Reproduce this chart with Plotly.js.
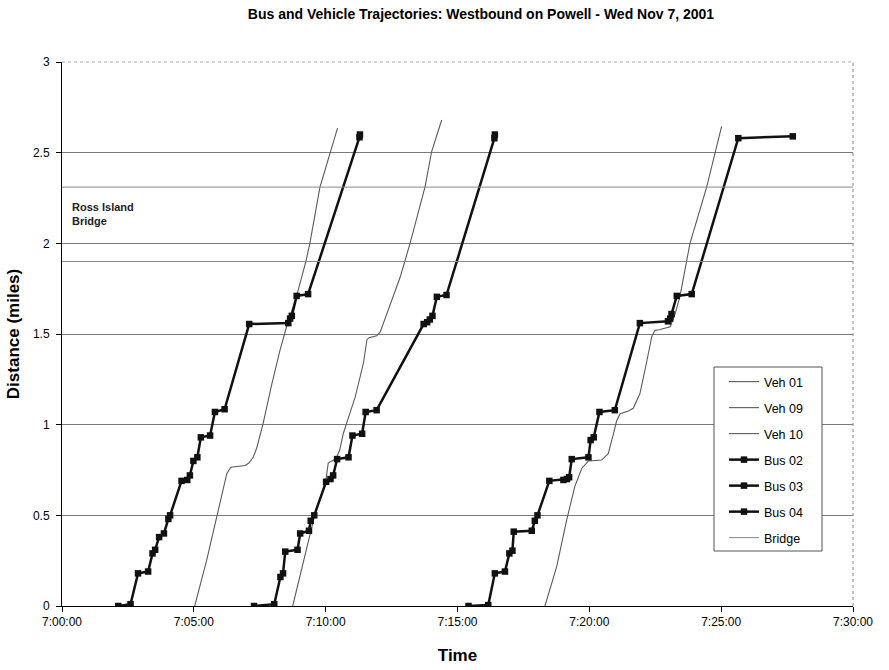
<!DOCTYPE html>
<html>
<head>
<meta charset="utf-8">
<script src="https://cdn.plot.ly/plotly-3.0.1.min.js"></script>
<style>html,body{margin:0;padding:0;background:#fff;}#chart{width:889px;height:670px;}</style>
</head>
<body>
<div id="chart"></div>
<script>
// ---- data (time of day, distance in miles) ----
const veh01Time = ["7:05:02","7:05:29","7:05:52","7:06:07","7:06:15","7:06:24","7:06:42","7:06:57","7:07:06","7:07:15","7:07:23","7:07:30","7:07:38","7:07:57","7:08:16","7:08:31","7:08:54","7:09:15","7:09:24","7:09:47","7:10:10","7:10:27"];
const veh01Dist = [0,0.25,0.49,0.65,0.73,0.765,0.77,0.775,0.79,0.82,0.87,0.93,1.01,1.22,1.41,1.54,1.71,1.90,2.0,2.31,2.505,2.635];

const veh09Time = ["8:45","9:10","9:35","9:51","10:01","10:03","10:06","10:14","10:23","10:32","10:40","10:52","11:07","11:26","11:34","11:39","11:56","12:04","12:19","12:34","12:49","13:00","13:12","13:46","14:01","14:24"];
const veh09Dist = [0,0.25,0.50,0.62,0.70,0.74,0.79,0.80,0.81,0.86,0.95,1.04,1.15,1.34,1.47,1.48,1.49,1.51,1.61,1.72,1.81,1.90,2.0,2.31,2.505,2.68];

const veh10Time = ["18:19","18:46","19:08","19:27","19:43","19:58","20:28","20:43","20:55","21:02","21:10","21:29","21:40","21:52","21:55","22:10","22:22","22:29","22:41","23:04","23:15","23:26","23:40","23:49","24:27","24:46","25:01"];
const veh10Dist = [0,0.22,0.47,0.66,0.76,0.80,0.805,0.84,0.95,1.02,1.06,1.075,1.09,1.15,1.17,1.34,1.485,1.52,1.525,1.54,1.61,1.705,1.88,2.0,2.31,2.505,2.645];

const bus02Time = ["2:08","2:36","2:53","3:16","3:26","3:32","3:41","3:52","4:02","4:06","4:32","4:45","4:51","4:59","5:08","5:16","5:37","5:48","6:10","7:06","8:35","8:39","8:43","8:54","9:20","11:17","11:18"];
const bus02Dist = [0,0.01,0.18,0.19,0.29,0.31,0.38,0.40,0.48,0.50,0.69,0.695,0.72,0.80,0.82,0.93,0.94,1.07,1.085,1.555,1.56,1.585,1.60,1.71,1.72,2.585,2.60];

const bus03Time = ["7:17","8:03","8:17","8:23","8:28","8:56","9:02","9:22","9:26","9:34","10:01","10:11","10:17","10:26","10:52","11:01","11:23","11:31","11:56","13:43","13:51","13:57","14:03","14:13","14:35","16:24","16:25"];
const bus03Dist = [0,0.01,0.16,0.18,0.30,0.31,0.40,0.415,0.47,0.50,0.685,0.70,0.72,0.81,0.82,0.94,0.95,1.07,1.08,1.555,1.565,1.58,1.60,1.705,1.715,2.58,2.60];

const bus04Time = ["15:25","16:10","16:25","16:48","16:58","17:05","17:08","17:49","17:56","18:02","18:29","19:01","19:09","19:14","19:20","19:58","20:03","20:10","20:23","20:58","21:55","22:59","23:04","23:07","23:19","23:53","25:39","27:43"];
const bus04Dist = [0,0.005,0.18,0.19,0.29,0.305,0.41,0.415,0.47,0.50,0.69,0.695,0.70,0.71,0.81,0.82,0.915,0.93,1.07,1.08,1.56,1.57,1.585,1.61,1.71,1.72,2.58,2.59];

const bridgeTime = ["0:00","30:00",null,"0:00","30:00"];
const bridgeDist = [2.31,2.31,null,1.90,1.90];

const xTickVals = ["0:00","5:00","10:00","15:00","20:00","25:00","30:00"];
const xTickText = ["7:00:00","7:05:00","7:10:00","7:15:00","7:20:00","7:25:00","7:30:00"];
const yTickVals = [0,0.5,1,1.5,2,2.5,3];

// convert "m:ss" (minutes after 7:00) or "7:mm:ss" into minutes after 7:00
function toMin(s){
  if(s===null) return null;
  const p = s.split(':').map(Number);
  if(p.length===3) return (p[0]-7)*60 + p[1] + p[2]/60;
  return p[0] + p[1]/60;
}

const FONT = "Liberation Sans, Arial, sans-serif";
const vehStyle = {color:'#5a5a5a', width:1.1};
const busLine = {color:'#111', width:2.5};
const busMarker = {symbol:'square', size:6.5, color:'#111'};

const traces = [
  {name:'Veh 01', x:veh01Time.map(toMin), y:veh01Dist, mode:'lines', line:vehStyle, legend:'legend'},
  {name:'Veh 09', x:veh09Time.map(toMin), y:veh09Dist, mode:'lines', line:vehStyle, legend:'legend2'},
  {name:'Veh 10', x:veh10Time.map(toMin), y:veh10Dist, mode:'lines', line:vehStyle, legend:'legend3'},
  {name:'Bus 02', x:bus02Time.map(toMin), y:bus02Dist, mode:'lines+markers', line:busLine, marker:busMarker, legend:'legend4'},
  {name:'Bus 03', x:bus03Time.map(toMin), y:bus03Dist, mode:'lines+markers', line:busLine, marker:busMarker, legend:'legend5'},
  {name:'Bus 04', x:bus04Time.map(toMin), y:bus04Dist, mode:'lines+markers', line:busLine, marker:busMarker, legend:'legend6'},
  {name:'Bridge', x:bridgeTime.map(toMin), y:bridgeDist, mode:'lines', line:{color:'#888', width:1}, connectgaps:false, legend:'legend7'}
];

// plot area in pixels: left 62, right 853, top 62, bottom 606
const PL=62, PW=791, PB=606, PH=544;
const px = v => (v-PL)/PW, py = v => (PB-v)/PH;
const legendRows = [382,408,434,460,486,512,538];

const layout = {
  width:889, height:670,
  margin:{l:PL, r:889-PL-PW, t:PB-PH, b:670-PB},
  paper_bgcolor:'#fff', plot_bgcolor:'#fff',
  font:{family:FONT, size:12, color:'#000'},
  title:{text:'<b>Bus and Vehicle Trajectories: Westbound on Powell - Wed Nov 7, 2001</b>', font:{family:FONT, size:14, color:'#000'}, xref:'paper', x:px(481), xanchor:'center', y:0.979, yanchor:'middle'},
  xaxis:{
    range:[0,30], tickmode:'array', tickvals:xTickVals.map(toMin), ticktext:xTickText,
    showgrid:false, zeroline:false, showline:true, linecolor:'#000', linewidth:1,
    ticks:'outside', ticklen:5, tickcolor:'#000', tickfont:{size:12},
    title:{text:'<b>Time</b>', font:{size:17}, standoff:20}
  },
  yaxis:{
    range:[0,3], tickmode:'array', tickvals:yTickVals,
    showgrid:true, gridcolor:'#7a7a7a', gridwidth:1, zeroline:false,
    showline:true, linecolor:'#000', linewidth:1,
    ticks:'outside', ticklen:5, tickcolor:'#000', tickfont:{size:12}, ticklabelstandoff:4,
    title:{text:'<b>Distance (miles)</b>', font:{size:17}, standoff:8}
  },
  shapes:[
    {type:'line', xref:'paper', yref:'paper', x0:1, x1:1, y0:0, y1:1, line:{color:'#888', width:1, dash:'dot'}},
    {type:'line', xref:'paper', yref:'paper', x0:0, x1:1, y0:1, y1:1, line:{color:'#aaa', width:1, dash:'dot'}},
    {type:'rect', layer:'above', xref:'paper', yref:'paper', x0:px(714), x1:px(822), y0:py(551), y1:py(367), fillcolor:'#fff', line:{color:'#555', width:1}}
  ],
  annotations:[
    {text:'<b>Ross Island<br>Bridge</b>', xref:'paper', yref:'y', x:0.01, y:2.16, xanchor:'left', yanchor:'middle', align:'left', showarrow:false, font:{size:11, color:'#222'}}
  ],
  showlegend:true
};
['legend','legend2','legend3','legend4','legend5','legend6','legend7'].forEach((k,i)=>{
  layout[k] = {x:px(724), y:py(legendRows[i]), xanchor:'left', yanchor:'middle',
    bgcolor:'rgba(0,0,0,0)', borderwidth:0, font:{size:12.5}, itemwidth:30};
});

Plotly.newPlot('chart', traces, layout, {staticPlot:true, displayModeBar:false});
</script>
</body>
</html>
